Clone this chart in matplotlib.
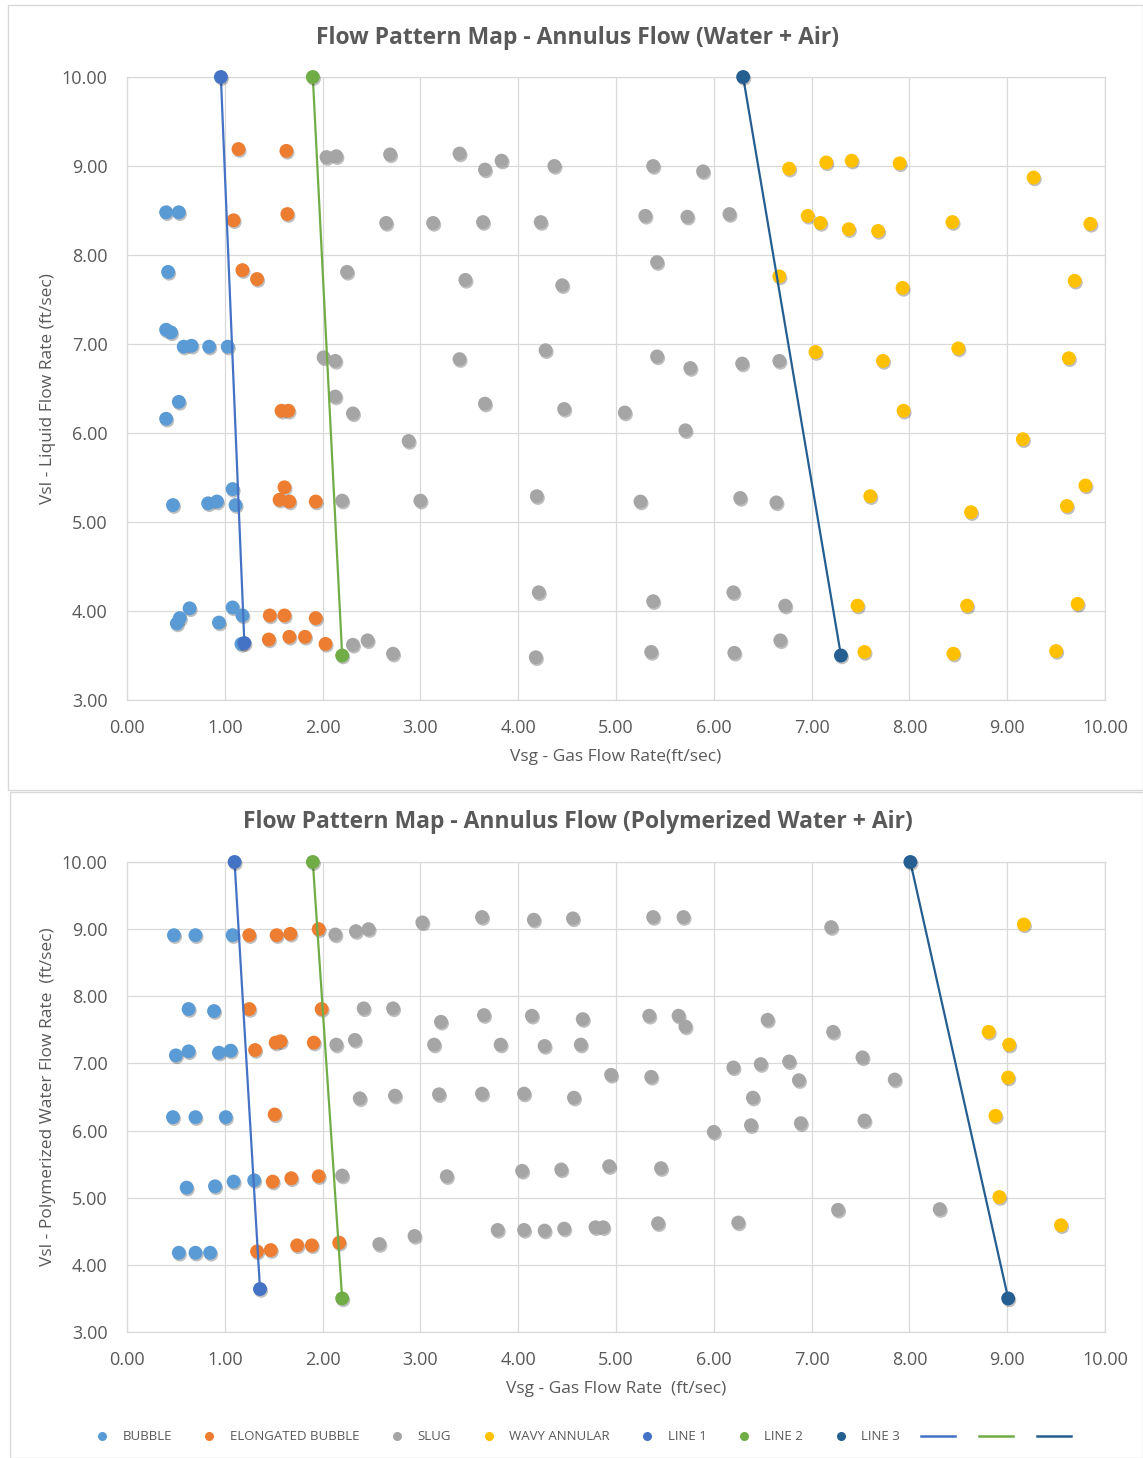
import matplotlib
matplotlib.use("Agg")
import matplotlib.pyplot as plt
import matplotlib.patheffects as pe
from matplotlib.lines import Line2D
from matplotlib.patches import Rectangle

# ---------------- DATA: Top chart (Water + Air) ----------------
t_bubble_x = [0.40, 0.53, 0.42, 0.40, 0.45, 0.58, 0.66, 0.84, 1.03, 0.40, 0.53,
              0.47, 0.83, 0.92, 1.08, 1.11, 0.64, 0.54, 0.51, 0.94, 1.08, 1.18, 1.17]
t_bubble_y = [8.48, 8.48, 7.81, 7.16, 7.13, 6.97, 6.98, 6.97, 6.97, 6.16, 6.35,
              5.19, 5.21, 5.23, 5.37, 5.19, 4.03, 3.92, 3.86, 3.87, 4.04, 3.95, 3.63]

t_elong_x = [1.14, 1.63, 1.09, 1.64, 1.18, 1.33, 1.58, 1.65, 1.61, 1.56, 1.66, 1.93,
             1.46, 1.61, 1.93, 1.45, 1.66, 1.82, 2.03]
t_elong_y = [9.19, 9.17, 8.39, 8.46, 7.83, 7.73, 6.25, 6.25, 5.39, 5.25, 5.23, 5.23,
             3.95, 3.95, 3.92, 3.68, 3.71, 3.71, 3.63]

t_slug_x = [2.04, 2.14, 2.69, 2.65, 3.13, 2.25, 2.01, 2.13, 2.13, 2.31, 2.88, 2.20, 3.00,
            2.31, 2.46, 2.72, 3.40, 3.66, 3.83, 4.37, 5.38, 5.89, 3.64, 4.23, 5.30, 5.73,
            6.16, 3.46, 4.45, 5.42, 3.40, 4.28, 5.42, 5.76, 6.29, 6.67, 3.66, 4.47, 5.09,
            5.71, 4.19, 5.25, 6.27, 6.64, 4.21, 5.38, 6.20, 6.73, 4.18, 5.36, 6.21, 6.68]
t_slug_y = [9.10, 9.11, 9.13, 8.36, 8.36, 7.81, 6.85, 6.81, 6.41, 6.22, 5.91, 5.24, 5.24,
            3.62, 3.67, 3.52, 9.14, 8.96, 9.06, 9.00, 9.00, 8.94, 8.37, 8.37, 8.44, 8.43,
            8.46, 7.72, 7.66, 7.92, 6.83, 6.93, 6.86, 6.73, 6.78, 6.81, 6.33, 6.27, 6.23,
            6.03, 5.29, 5.23, 5.27, 5.22, 4.21, 4.11, 4.21, 4.06, 3.48, 3.54, 3.53, 3.67]

t_wavy_x = [6.77, 7.15, 7.41, 7.90, 9.27, 6.96, 7.09, 7.38, 7.68, 8.44, 9.85, 6.67, 7.93,
            9.69, 7.04, 7.73, 8.50, 9.63, 7.94, 9.16, 7.60, 8.63, 9.61, 9.80, 7.47, 8.59,
            9.72, 7.54, 8.45, 9.50]
t_wavy_y = [8.97, 9.04, 9.06, 9.03, 8.87, 8.44, 8.36, 8.29, 8.27, 8.37, 8.35, 7.76, 7.63,
            7.71, 6.91, 6.81, 6.95, 6.84, 6.25, 5.93, 5.29, 5.11, 5.18, 5.41, 4.06, 4.06,
            4.08, 3.54, 3.52, 3.55]

t_line1_x = [0.96, 1.20]
t_line1_y = [10.00, 3.64]
t_line2_x = [1.90, 2.20]
t_line2_y = [10.00, 3.50]
t_line3_x = [6.30, 7.30]
t_line3_y = [10.00, 3.50]

# ---------------- DATA: Bottom chart (Polymerized Water + Air) ----------------
b_bubble_x = [0.48, 0.70, 1.08, 0.63, 0.89, 0.50, 0.63, 0.94, 1.06, 0.47, 0.70, 1.01,
              0.61, 0.90, 1.09, 1.30, 0.53, 0.70, 0.85]
b_bubble_y = [8.91, 8.91, 8.91, 7.81, 7.78, 7.12, 7.18, 7.16, 7.19, 6.20, 6.20, 6.20,
              5.15, 5.17, 5.24, 5.26, 4.18, 4.18, 4.18]

b_elong_x = [1.25, 1.53, 1.67, 1.96, 1.25, 1.99, 1.31, 1.52, 1.57, 1.91, 1.51, 1.49,
             1.68, 1.96, 1.33, 1.47, 1.74, 1.89, 2.17]
b_elong_y = [8.91, 8.91, 8.93, 9.00, 7.81, 7.81, 7.20, 7.31, 7.33, 7.31, 6.24, 5.24,
             5.29, 5.32, 4.20, 4.22, 4.29, 4.29, 4.33]

b_slug_x = [2.13, 2.34, 2.47, 3.02, 2.42, 2.72, 3.21, 2.14, 2.33, 3.14, 2.38, 2.74, 3.19,
            2.20, 3.27, 2.58, 2.94, 3.63, 4.16, 4.56, 5.38, 5.69, 3.65, 4.14, 4.66, 5.34,
            5.64, 5.71, 6.55, 3.82, 4.27, 4.64, 4.95, 5.36, 6.20, 6.48, 3.63, 4.06, 4.57,
            6.40, 6.38, 6.00, 4.04, 4.44, 4.93, 5.46, 3.79, 4.06, 4.27, 4.47, 4.79, 4.87,
            5.43, 6.25, 7.20, 7.22, 6.77, 7.52, 6.87, 7.85, 6.89, 7.54, 7.27, 8.31]
b_slug_y = [8.92, 8.97, 9.00, 9.10, 7.82, 7.82, 7.62, 7.28, 7.35, 7.28, 6.48, 6.52, 6.54,
            5.33, 5.32, 4.31, 4.43, 9.18, 9.14, 9.16, 9.18, 9.18, 7.72, 7.71, 7.66, 7.71,
            7.71, 7.55, 7.65, 7.28, 7.26, 7.28, 6.83, 6.80, 6.94, 6.99, 6.55, 6.55, 6.49,
            6.49, 6.08, 5.98, 5.40, 5.42, 5.47, 5.44, 4.52, 4.52, 4.51, 4.54, 4.56, 4.56,
            4.62, 4.63, 9.03, 7.47, 7.03, 7.09, 6.75, 6.76, 6.11, 6.15, 4.82, 4.83]

b_wavy_x = [9.17, 8.81, 9.02, 9.01, 8.88, 8.92, 9.55]
b_wavy_y = [9.07, 7.47, 7.28, 6.79, 6.22, 5.01, 4.59]

b_line1_x = [1.10, 1.36]
b_line1_y = [10.00, 3.64]
b_line2_x = [1.90, 2.20]
b_line2_y = [10.00, 3.50]
b_line3_x = [8.01, 9.01]
b_line3_y = [10.00, 3.50]

titles = ["Flow Pattern Map - Annulus Flow (Water + Air)",
          "Flow Pattern Map - Annulus Flow (Polymerized Water + Air)"]
xlabels = ["Vsg - Gas Flow Rate(ft/sec)", "Vsg - Gas Flow Rate  (ft/sec)"]
ylabels = ["Vsl - Liquid Flow Rate (ft/sec)", "Vsl - Polymerized Water Flow Rate  (ft/sec)"]
legend_labels = ["BUBBLE", "ELONGATED BUBBLE", "SLUG", "WAVY ANNULAR", "LINE 1", "LINE 2", "LINE 3"]

# ---------------- STYLE ----------------
C_BUB = "#5B9BD5"
C_ELO = "#ED7D31"
C_SLUG = "#A5A5A5"
C_WAVY = "#FFC000"
C_L1 = "#4472C4"
C_L2 = "#70AD47"
C_L3 = "#255E91"
TXT = "#595959"
GRID = "#D9D9D9"

plt.rcParams['font.family'] = ['Open Sans', 'DejaVu Sans']

fig = plt.figure(figsize=(11.43, 14.58), dpi=100)

W, H = 1143, 1458
def ax_rect(l, r, t, b):
    return [l / W, 1 - b / H, (r - l) / W, (b - t) / H]

ax1 = fig.add_axes(ax_rect(127, 1105, 77, 700))
ax2 = fig.add_axes(ax_rect(127, 1105, 862, 1332))

shadow = [pe.SimplePatchShadow(offset=(0.8, -1.3), shadow_rgbFace="black", alpha=0.25), pe.Normal()]
MS = 100

def draw(ax, bx, by, ex, ey, sx, sy, wx, wy, l1, l2, l3, title, title_y, xl, yl):
    for xs, ys, c in [(bx, by, C_BUB), (ex, ey, C_ELO), (sx, sy, C_SLUG), (wx, wy, C_WAVY)]:
        sc = ax.scatter(xs, ys, s=MS, color=c, edgecolors="none", zorder=3)
        sc.set_path_effects(shadow)
    for (lx, ly), c in zip([l1, l2, l3], [C_L1, C_L2, C_L3]):
        ln, = ax.plot(lx, ly, color=c, lw=1.6, marker="o", ms=10, mec="none", zorder=4,
                      clip_on=False)
        ln.set_path_effects(shadow)
    ax.set_xlim(0, 10)
    ax.set_ylim(3, 10)
    ax.set_xticks(range(0, 11))
    ax.set_yticks(range(3, 11))
    ax.xaxis.set_major_formatter(matplotlib.ticker.FormatStrFormatter("%.2f"))
    ax.yaxis.set_major_formatter(matplotlib.ticker.FormatStrFormatter("%.2f"))
    ax.tick_params(length=0, labelsize=13, colors=TXT)
    ax.tick_params(axis="x", pad=14)
    ax.tick_params(axis="y", pad=14)
    ax.grid(True, color=GRID, lw=0.9, zorder=0)
    ax.set_axisbelow(True)
    for s in ax.spines.values():
        s.set_color(GRID)
        s.set_linewidth(0.9)
    fig.text(578 / W, 1 - title_y / H, title, fontsize=16.5, fontweight="bold", color=TXT,
             ha="center", va="center")
    ax.set_xlabel(xl, fontsize=12.5, color=TXT, labelpad=8)
    ax.set_ylabel(yl, fontsize=12.5, color=TXT, labelpad=4)

draw(ax1, t_bubble_x, t_bubble_y, t_elong_x, t_elong_y, t_slug_x, t_slug_y,
     t_wavy_x, t_wavy_y, (t_line1_x, t_line1_y), (t_line2_x, t_line2_y), (t_line3_x, t_line3_y),
     titles[0], 38, xlabels[0], ylabels[0])
draw(ax2, b_bubble_x, b_bubble_y, b_elong_x, b_elong_y, b_slug_x, b_slug_y,
     b_wavy_x, b_wavy_y, (b_line1_x, b_line1_y), (b_line2_x, b_line2_y), (b_line3_x, b_line3_y),
     titles[1], 822, xlabels[1], ylabels[1])

# chart borders
fig.patches.append(Rectangle((8 / W, 1 - 790 / H), (W - 8) / W, 785 / H, transform=fig.transFigure,
                             fill=False, ec=GRID, lw=1.0))
fig.patches.append(Rectangle((10 / W, 0), (W - 10) / W, 1 - 792 / H, transform=fig.transFigure,
                             fill=False, ec=GRID, lw=1.0))

# legend
handles = []
for c in [C_BUB, C_ELO, C_SLUG, C_WAVY, C_L1, C_L2, C_L3]:
    handles.append(Line2D([], [], ls="none", marker="o", ms=6.5, color=c, mec="none"))
labels = list(legend_labels)
for c in [C_L1, C_L2, C_L3]:
    handles.append(Line2D([], [], color=c, lw=1.8))
    labels.append("")
leg = fig.legend(handles, labels, loc="center", bbox_to_anchor=(0.507, 1 - 1437 / H), ncol=10,
                 frameon=False, fontsize=9.5, handlelength=2.6, handletextpad=0.25,
                 columnspacing=1.55, labelcolor=TXT)

fig.savefig("out.png", dpi=100, facecolor="white")
